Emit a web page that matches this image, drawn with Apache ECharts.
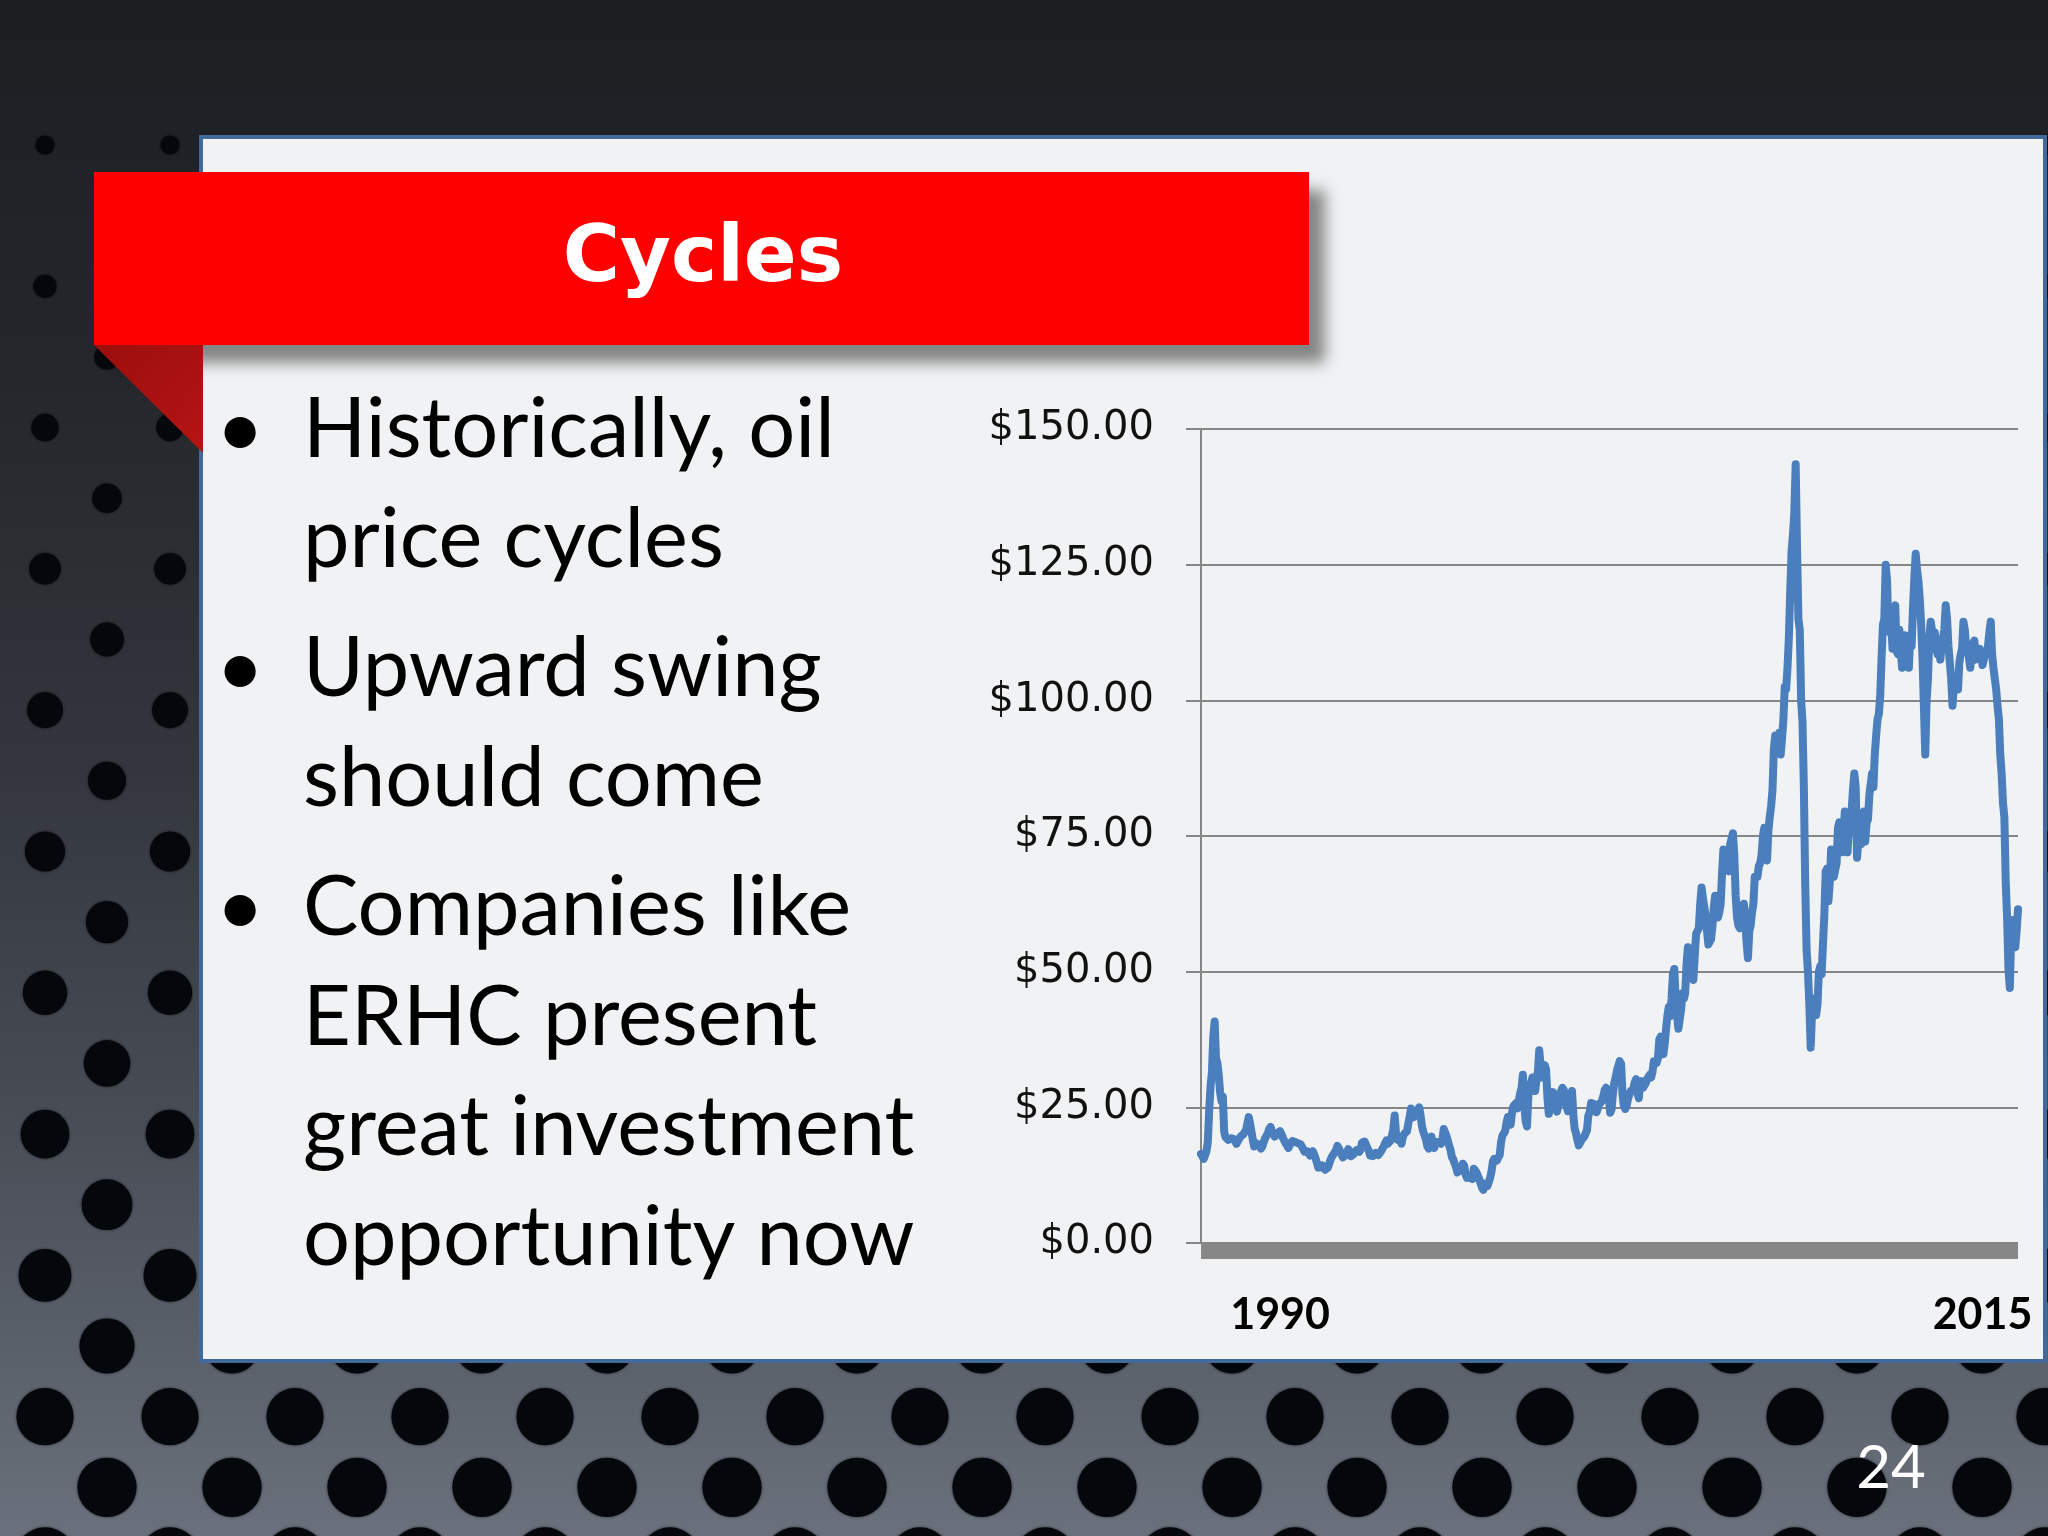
<!DOCTYPE html>
<html>
<head>
<meta charset="utf-8">
<script src="https://cdn.jsdelivr.net/npm/echarts@6/dist/echarts.min.js"></script>
<style>
html, body { margin: 0; padding: 0; background: #1e1f23; }
#chart { width: 2048px; height: 1536px; }
</style>
</head>
<body>
<div id="chart"></div>
<script>
// ---- Data: Brent spot price, two readings per month (1st half, 2nd half) ----
const brent1990 = [16.4, 16.0, 15.5, 15.8, 16.9, 18.6, 24.5, 28.8, 31.5, 38.0, 40.8, 34.0, 33.2, 31.0, 27.8, 26.2]; // May-Dec
const brent1991 = [27.0, 20.5, 19.5, 19.2, 19.0, 18.8, 19.3, 19.0, 19.2, 19.0, 18.3, 18.0, 19.2, 19.6, 19.4, 20.0, 20.2, 20.8, 22.0, 23.2, 22.0, 20.5, 19.0, 17.8];
const brent1992 = [17.8, 18.3, 18.4, 17.8, 17.4, 17.8, 18.6, 19.3, 19.6, 20.2, 21.0, 21.4, 20.6, 20.0, 19.6, 19.9, 20.2, 20.4, 20.6, 20.1, 19.4, 18.9, 18.4, 18.0];
const brent1993 = [17.5, 17.3, 18.4, 18.8, 18.8, 18.6, 18.6, 18.4, 18.6, 18.2, 17.9, 17.3, 16.8, 16.5, 16.9, 16.7, 16.1, 16.4, 16.9, 16.3, 15.6, 14.8, 13.9, 13.6];
const brent1994 = [13.9, 14.3, 14.0, 13.5, 13.4, 13.9, 14.6, 15.4, 15.9, 16.3, 16.6, 17.1, 17.9, 17.5, 16.9, 16.7, 15.8, 16.0, 16.2, 16.5, 17.3, 16.9, 16.0, 15.7];
const brent1995 = [16.4, 16.7, 17.1, 17.2, 16.8, 17.2, 18.5, 18.8, 18.7, 18.1, 17.5, 17.0, 16.1, 15.8, 16.0, 16.3, 16.6, 16.8, 16.2, 16.0, 16.9, 17.2, 17.8, 18.4];
const brent1996 = [18.9, 18.3, 18.5, 18.9, 19.8, 21.0, 23.5, 20.0, 19.0, 18.7, 18.9, 18.3, 19.6, 20.1, 20.0, 20.6, 22.0, 23.3, 24.8, 24.6, 23.2, 23.0, 24.0, 24.5];
const brent1997 = [25.0, 23.5, 21.5, 20.5, 19.8, 19.0, 17.8, 17.4, 19.2, 19.6, 18.0, 17.5, 18.6, 18.8, 18.6, 18.9, 18.3, 19.0, 21.0, 20.3, 19.7, 18.8, 17.9, 17.1];
const brent1998 = [15.8, 15.4, 14.6, 14.0, 13.0, 13.4, 13.5, 13.3, 14.6, 14.2, 12.6, 12.0, 12.4, 12.0, 12.1, 11.8, 13.7, 13.5, 13.0, 12.7, 11.8, 11.0, 10.2, 9.8];
const brent1999 = [10.9, 11.2, 10.5, 10.3, 12.0, 13.2, 15.0, 15.5, 15.6, 15.2, 15.8, 16.2, 18.6, 19.8, 20.2, 20.6, 22.2, 23.2, 22.5, 21.8, 24.0, 25.2, 25.4, 25.8];
const brent2000 = [24.8, 26.2, 27.6, 28.5, 31.0, 25.5, 22.5, 21.5, 27.0, 29.0, 29.5, 30.5, 29.5, 28.0, 30.2, 31.5, 35.5, 32.5, 30.5, 31.8, 32.8, 32.0, 26.8, 23.8];
const brent2001 = [25.0, 26.4, 27.8, 27.4, 24.8, 24.2, 25.4, 26.0, 28.0, 28.6, 28.2, 27.2, 25.2, 24.3, 25.5, 25.9, 28.0, 23.5, 21.0, 20.2, 18.9, 18.0, 18.5, 19.0];
const brent2002 = [19.3, 19.6, 19.8, 20.8, 23.5, 24.1, 25.8, 25.6, 25.6, 25.1, 24.1, 24.0, 25.6, 25.9, 26.2, 27.1, 28.2, 28.6, 28.2, 26.9, 24.0, 24.6, 27.5, 29.5];
const brent2003 = [30.5, 31.8, 32.0, 33.5, 33.0, 27.5, 25.3, 24.7, 25.2, 26.5, 27.3, 28.0, 28.3, 28.4, 29.6, 30.2, 27.6, 26.7, 29.4, 29.8, 28.6, 28.9, 29.4, 30.2];
const brent2004 = [30.5, 31.0, 30.5, 31.5, 33.5, 33.8, 33.2, 34.0, 37.5, 38.0, 35.8, 34.8, 36.8, 39.5, 42.0, 43.5, 41.8, 45.0, 49.5, 50.5, 45.0, 42.0, 39.5, 39.5];
const brent2005 = [43.0, 46.0, 45.0, 46.0, 51.5, 54.5, 53.0, 51.5, 49.5, 48.5, 53.0, 57.0, 57.0, 58.0, 62.5, 65.5, 63.5, 62.0, 60.0, 57.5, 55.0, 55.5, 56.0, 58.5];
const brent2006 = [62.0, 64.0, 60.5, 60.0, 61.0, 62.5, 68.0, 72.5, 70.0, 69.5, 69.0, 68.5, 73.5, 74.5, 75.5, 71.5, 64.0, 60.0, 58.5, 58.0, 58.5, 59.0, 62.5, 62.5];
const brent2007 = [55.5, 52.5, 57.5, 58.5, 61.0, 62.5, 67.5, 67.5, 67.5, 69.5, 70.0, 71.5, 75.0, 76.5, 71.0, 70.5, 76.0, 78.5, 80.5, 83.5, 91.0, 93.5, 90.5, 93.0];
const brent2008 = [94.0, 90.0, 93.0, 96.5, 102.5, 102.0, 106.0, 111.5, 120.0, 127.5, 130.5, 134.5, 143.5, 128.0, 115.0, 113.0, 100.0, 96.0, 84.0, 66.0, 54.0, 50.0, 44.0, 36.0];
const brent2009 = [42.5, 45.0, 44.5, 42.0, 44.0, 50.0, 51.0, 49.5, 55.0, 60.5, 68.5, 69.0, 63.0, 66.5, 72.5, 71.0, 67.5, 67.5, 70.0, 76.5, 77.5, 76.5, 72.0, 74.5];
const brent2010 = [79.5, 74.5, 72.0, 76.5, 78.5, 79.5, 83.5, 86.5, 84.0, 71.0, 74.5, 76.5, 73.5, 76.5, 79.5, 74.0, 77.5, 78.0, 82.5, 82.5, 86.5, 84.0, 90.0, 93.5];
const brent2011 = [96.5, 97.5, 101.0, 108.0, 114.0, 115.0, 125.0, 122.0, 113.0, 112.5, 114.5, 109.5, 117.0, 117.5, 109.0, 108.5, 113.0, 109.5, 106.0, 110.5, 112.0, 108.5, 108.5, 106.0];
const brent2012 = [112.0, 110.0, 117.0, 122.5, 127.0, 124.0, 122.0, 118.5, 114.0, 107.5, 99.0, 90.0, 100.0, 104.0, 111.5, 114.5, 114.5, 111.0, 112.5, 109.5, 108.5, 110.5, 107.5, 110.0];
const brent2013 = [111.5, 113.0, 117.5, 115.0, 110.0, 107.0, 104.0, 99.0, 103.0, 102.5, 103.5, 102.0, 107.0, 108.5, 109.5, 114.5, 113.0, 109.5, 110.0, 108.0, 106.0, 108.5, 110.5, 111.0];
const brent2014 = [107.5, 108.0, 108.5, 109.5, 108.0, 106.5, 107.5, 109.0, 108.5, 110.0, 112.5, 114.5, 108.5, 106.0, 104.0, 102.0, 99.0, 96.5, 90.0, 86.5, 81.0, 78.5, 66.5, 60.0];
const brent2015 = [50.5, 47.0, 56.5, 59.5, 57.0, 54.5, 57.5, 61.5]; // Jan-Apr

const startYear = 1990, startMonth = 5; // first reading: May 1990
const xTickLabels = ['1990', '2015'];
const xTickIndex = [58, 573];
const yMin = 0, yMax = 150, yStep = 25;

const titleText = 'Cycles';
const bulletGroups = [
  ['Historically, oil', 'price cycles'],
  ['Upward swing', 'should come'],
  ['Companies like', 'ERHC present', 'great investment', 'opportunity now']
];
const pageNumber = '24';

// ---- Build series ----
const prices = [].concat(brent1990, brent1991, brent1992, brent1993, brent1994, brent1995,
  brent1996, brent1997, brent1998, brent1999, brent2000, brent2001, brent2002, brent2003,
  brent2004, brent2005, brent2006, brent2007, brent2008, brent2009, brent2010, brent2011,
  brent2012, brent2013, brent2014, brent2015);
const categories = [];
{
  let y = startYear, m = startMonth;
  for (let i = 0; i < prices.length; i++) {
    const half = i % 2 === 0 ? '01' : '16';
    categories.push(y + '-' + String(m).padStart(2, '0') + '-' + half);
    if (i % 2 === 1) { m++; if (m > 12) { m = 1; y++; } }
  }
}

// ---- Slide decoration ----
const els = [];
els.push({
  type: 'rect', z: 0, silent: true,
  shape: { x: 0, y: 0, width: 2048, height: 1536 },
  style: { fill: new echarts.graphic.LinearGradient(0, 0, 0, 1, [
    { offset: 0, color: '#1d1e22' },
    { offset: 0.25, color: '#25272c' },
    { offset: 0.5, color: '#33363d' },
    { offset: 0.75, color: '#4a4f58' },
    { offset: 1, color: '#6a717c' }
  ]) }
});
// perforated dots
const rowStep = 141.3;
for (let k = 0; k < 11; k++) {
  const rows = [[145 + rowStep * k, 45], [215.6 + rowStep * k, 107]];
  rows.forEach(([cy, x0]) => {
    if (cy < 140 || cy > 1600) return;
    const d = 19 + 0.03 * (cy - 145);
    for (let cx = x0; cx < 2100; cx += 125) {
      els.push({ type: 'circle', z: 1, silent: true,
        shape: { cx: cx, cy: cy, r: d / 2 },
        style: { fill: '#04070b', shadowBlur: 3, shadowColor: 'rgba(0,0,0,0.6)' } });
    }
  });
}
// white panel
els.push({ type: 'rect', z: 2, silent: true,
  shape: { x: 201, y: 137, width: 1844, height: 1224 },
  style: { fill: '#f1f2f3', stroke: '#41699c', lineWidth: 4 } });
// banner
els.push({ type: 'rect', z: 3, silent: true,
  shape: { x: 94, y: 172, width: 1215, height: 173 },
  style: { fill: '#ff0000', shadowBlur: 14, shadowOffsetX: 16, shadowOffsetY: 18, shadowColor: 'rgba(0,0,0,0.45)' } });
els.push({ type: 'polygon', z: 4, silent: true,
  shape: { points: [[94, 345], [203, 345], [203, 453]] },
  style: { fill: new echarts.graphic.LinearGradient(0, 0, 1, 1, [
    { offset: 0, color: '#9c0e0e' }, { offset: 1, color: '#b51414' }]) } });
els.push({ type: 'text', z: 5, silent: true, x: 703, y: 261,
  style: { text: titleText, fill: '#ffffff', fontFamily: 'DejaVu Sans', fontWeight: 'bold', fontSize: 78,
    align: 'center', verticalAlign: 'middle',
    shadowColor: 'rgba(60,0,0,0.8)', shadowBlur: 4, shadowOffsetX: 3, shadowOffsetY: 4 } });
// bullet text
{
  let base = 457;
  bulletGroups.forEach((group, gi) => {
    if (gi > 0) base += 19;
    group.forEach((line, li) => {
      const mid = base - 27;
      if (li === 0) {
        els.push({ type: 'text', z: 5, silent: true, x: 240, y: mid,
          style: { text: '\u2022', fill: '#000', fontFamily: 'Lato', fontSize: 84, align: 'center', verticalAlign: 'middle' } });
      }
      els.push({ type: 'text', z: 5, silent: true, x: 303, y: mid,
        style: { text: line, fill: '#000', fontFamily: 'Lato', fontSize: 83, align: 'left', verticalAlign: 'middle' } });
      base += 110;
    });
  });
}
els.push({ type: 'text', z: 5, silent: true, x: 1891, y: 1469,
  style: { text: pageNumber, fill: '#ffffff', fontFamily: 'Lato', fontSize: 60, align: 'center', verticalAlign: 'middle',
    shadowColor: 'rgba(0,0,0,0.6)', shadowBlur: 3, shadowOffsetX: 1, shadowOffsetY: 2 } });

// ---- Chart ----
const chart = echarts.init(document.getElementById('chart'), null, { width: 2048, height: 1536 });
chart.setOption({
  animation: false,
  backgroundColor: 'transparent',
  graphic: { elements: els },
  grid: { left: 1201, right: 30, top: 429, bottom: 293, containLabel: false },
  xAxis: {
    type: 'category', data: categories, boundaryGap: false, z: 10, offset: 8,
    axisLine: { show: true, onZero: false, lineStyle: { color: '#878787', width: 16, cap: 'butt' } },
    axisTick: { show: false },
    splitLine: { show: false },
    axisLabel: {
      interval: (i) => xTickIndex.includes(i),
      formatter: (v, i) => xTickLabels[xTickIndex.indexOf(i)] || '',
      margin: 43, fontFamily: 'Lato', fontWeight: 'bold', fontSize: 43, color: '#000', hideOverlap: false
    }
  },
  yAxis: {
    type: 'value', min: yMin, max: yMax, interval: yStep, z: 10,
    axisLine: { show: true, lineStyle: { color: '#868686', width: 2 } },
    axisTick: { show: true, length: 15, lineStyle: { color: '#868686', width: 2 } },
    splitLine: { show: true, lineStyle: { color: '#868686', width: 2 } },
    axisLabel: { formatter: (v) => '$' + v.toFixed(2), margin: 47, fontFamily: 'DejaVu Sans', fontSize: 40, color: '#111' }
  },
  series: [{
    type: 'line', data: prices, symbol: 'none', showSymbol: false, z: 12, silent: true,
    lineStyle: { color: '#4a7ebc', width: 8, join: 'round', cap: 'round' }
  }]
});
</script>
</body>
</html>
